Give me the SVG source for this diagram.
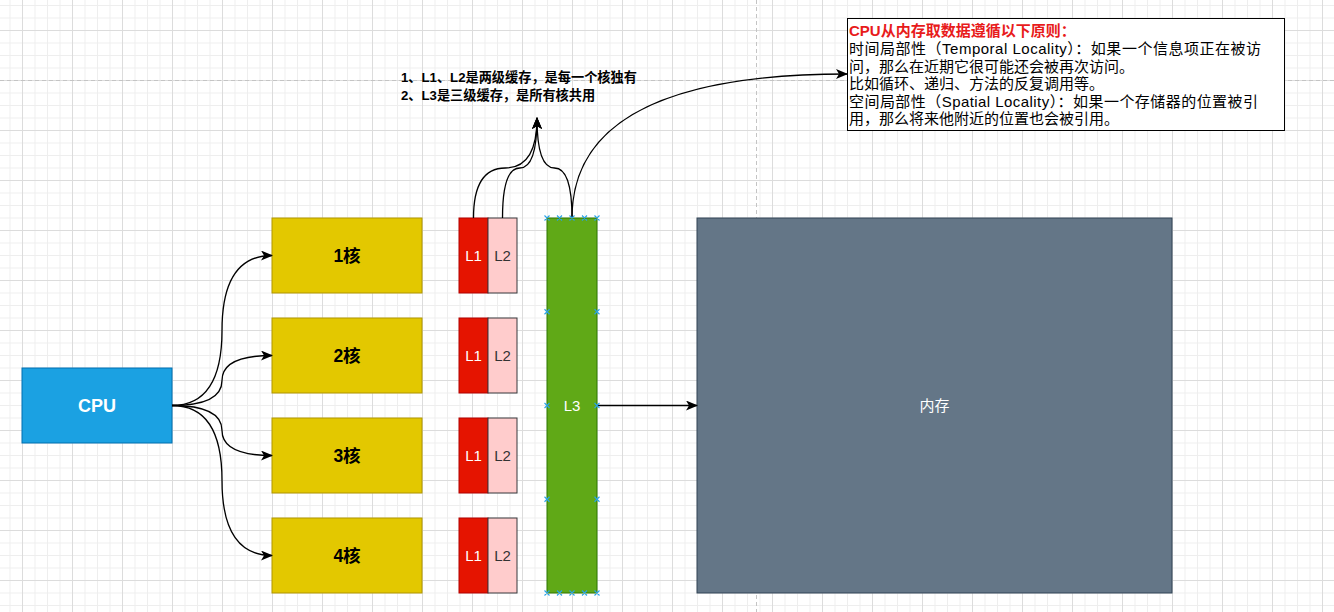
<svg xmlns="http://www.w3.org/2000/svg" width="1334" height="612" viewBox="0 0 1334 612">
<defs>
<pattern id="minor" patternUnits="userSpaceOnUse" x="9.5" y="5" width="12.5" height="12.5">
<path d="M0.5,0 V12.5 M0,0.5 H12.5" fill="none" stroke="#eeeeee" stroke-width="1"/>
</pattern>
<pattern id="major" patternUnits="userSpaceOnUse" x="22" y="30" width="50" height="50">
<path d="M0.5,0 V50 M0,0.5 H50" fill="none" stroke="#dcdcdc" stroke-width="1"/>
</pattern>
<marker id="arr" markerUnits="userSpaceOnUse" viewBox="0 0 12 10" markerWidth="12" markerHeight="10" refX="11" refY="5" orient="auto">
<path d="M0,0 L12,5 L0,10 L3,5 Z" fill="#000"/>
</marker>
<style>
.t{font-family:"Liberation Sans","Noto Sans CJK SC",sans-serif;}
.bx{font-family:"Liberation Sans","Noto Sans CJK SC",sans-serif;font-size:15px;fill:#000;}
.bx.red{fill:#e81b1b;font-weight:bold;}
.core{fill:#e3c800;stroke:#b09500;stroke-width:1;}
.l1{fill:#e51400;stroke:#b20000;stroke-width:1;}
.l2{fill:#ffcccc;stroke:#36393d;stroke-width:1;}
.edge{fill:none;stroke:#000;stroke-width:1.3;marker-end:url(#arr);}
.cx{stroke:#29a3e8;stroke-width:1.1;fill:none;}
.ct{font-size:17.5px;font-weight:bold;fill:#000;text-anchor:middle;}
.lt{font-size:15px;text-anchor:middle;}
</style>
</defs>
<rect width="1334" height="612" fill="#ffffff"/>
<rect width="1334" height="612" fill="url(#minor)"/>
<rect width="1334" height="612" fill="url(#major)"/>
<g id="pagebreaks" stroke="#c4c4c4" stroke-width="1" stroke-dasharray="4,3" fill="none">
<path d="M0,80.5 H1334"/>
<path d="M756.5,0 V612"/>
</g>

<g id="cpu">
<rect x="22" y="368" width="150" height="75" fill="#1ba1e2" stroke="#006eaf"/>
<text class="t" x="97" y="412" font-size="18" font-weight="bold" fill="#ffffff" text-anchor="middle">CPU</text>
</g>

<g id="core1"><rect class="core" x="272" y="218" width="150" height="75"/><text class="t ct" x="347" y="262">1核</text></g>
<g id="core2"><rect class="core" x="272" y="318" width="150" height="75"/><text class="t ct" x="347" y="362">2核</text></g>
<g id="core3"><rect class="core" x="272" y="418" width="150" height="75"/><text class="t ct" x="347" y="462">3核</text></g>
<g id="core4"><rect class="core" x="272" y="518" width="150" height="75"/><text class="t ct" x="347" y="562">4核</text></g>

<g id="l1-1"><rect class="l1" x="459" y="218" width="29" height="75"/><text class="t lt" x="473.5" y="261" fill="#ffffff">L1</text></g>
<g id="l2-1"><rect class="l2" x="488" y="218" width="29" height="75"/><text class="t lt" x="502.5" y="261" fill="#333333">L2</text></g>
<g id="l1-2"><rect class="l1" x="459" y="318" width="29" height="75"/><text class="t lt" x="473.5" y="361" fill="#ffffff">L1</text></g>
<g id="l2-2"><rect class="l2" x="488" y="318" width="29" height="75"/><text class="t lt" x="502.5" y="361" fill="#333333">L2</text></g>
<g id="l1-3"><rect class="l1" x="459" y="418" width="29" height="75"/><text class="t lt" x="473.5" y="461" fill="#ffffff">L1</text></g>
<g id="l2-3"><rect class="l2" x="488" y="418" width="29" height="75"/><text class="t lt" x="502.5" y="461" fill="#333333">L2</text></g>
<g id="l1-4"><rect class="l1" x="459" y="518" width="29" height="75"/><text class="t lt" x="473.5" y="561" fill="#ffffff">L1</text></g>
<g id="l2-4"><rect class="l2" x="488" y="518" width="29" height="75"/><text class="t lt" x="502.5" y="561" fill="#333333">L2</text></g>

<g id="l3">
<rect x="547" y="218" width="50" height="375" fill="#60a917" stroke="#2d7600"/>
<text class="t lt" x="572" y="411" fill="#ffffff">L3</text>
</g>

<g id="memory">
<rect x="697" y="218" width="475" height="375" fill="#647687" stroke="#314354"/>
<text class="t lt" x="934.5" y="411" fill="#ffffff">内存</text>
</g>

<g id="note-cache">
<text class="t" font-size="13.2" font-weight="bold" fill="#000">
<tspan x="401" y="81.5">1、L1、L2是两级缓存，是每一个核独有</tspan>
<tspan x="401" y="100">2、L3是三级缓存，是所有核共用</tspan>
</text>
</g>

<g id="note-locality">
<rect x="847.5" y="18.5" width="437" height="112" fill="#ffffff" stroke="#000000"/>
<text class="bx red" x="849" y="36">CPU从内存取数据遵循以下原则：</text>
<text class="bx" x="849" y="54" textLength="412" lengthAdjust="spacing">时间局部性（Temporal Locality）：如果一个信息项正在被访</text>
<text class="bx" x="849" y="71.5">问，那么在近期它很可能还会被再次访问。</text>
<text class="bx" x="849" y="89">比如循环、递归、方法的反复调用等。</text>
<text class="bx" x="849" y="106.5" textLength="409" lengthAdjust="spacing">空间局部性（Spatial Locality）：如果一个存储器的位置被引</text>
<text class="bx" x="849" y="124">用，那么将来他附近的位置也会被引用。</text>
</g>

<g id="connectors">
<path class="edge" d="M172,405.5 Q222,405.5 222,330.5 Q222,255.5 272,255.5"/>
<path class="edge" d="M172,405.5 Q222,405.5 222,380.5 Q222,355.5 272,355.5"/>
<path class="edge" d="M172,405.5 Q222,405.5 222,430.5 Q222,455.5 272,455.5"/>
<path class="edge" d="M172,405.5 Q222,405.5 222,480.5 Q222,555.5 272,555.5"/>
<path class="edge" d="M597,405.5 L697,405.5"/>
<path class="edge" d="M473.5,218 Q473.5,168 505.25,168 Q537,168 537,118"/>
<path class="edge" d="M502.5,218 Q502.5,168 519.75,168 Q537,168 537,118"/>
<path class="edge" d="M572,218 Q572,168 554.5,168 Q537,168 537,118"/>
<path class="edge" d="M572,218 Q572,74 847,74"/>
</g>

<g id="l3-points" class="cx">
<path d="M544.5,215.5 l5,5 m0,-5 l-5,5 M557,215.5 l5,5 m0,-5 l-5,5 M569.5,215.5 l5,5 m0,-5 l-5,5 M582,215.5 l5,5 m0,-5 l-5,5 M594.5,215.5 l5,5 m0,-5 l-5,5"/>
<path d="M544.5,590.5 l5,5 m0,-5 l-5,5 M557,590.5 l5,5 m0,-5 l-5,5 M569.5,590.5 l5,5 m0,-5 l-5,5 M582,590.5 l5,5 m0,-5 l-5,5 M594.5,590.5 l5,5 m0,-5 l-5,5"/>
<path d="M544.5,309.25 l5,5 m0,-5 l-5,5 M544.5,403 l5,5 m0,-5 l-5,5 M544.5,496.75 l5,5 m0,-5 l-5,5"/>
<path d="M594.5,309.25 l5,5 m0,-5 l-5,5 M594.5,403 l5,5 m0,-5 l-5,5 M594.5,496.75 l5,5 m0,-5 l-5,5"/>
</g>
</svg>
